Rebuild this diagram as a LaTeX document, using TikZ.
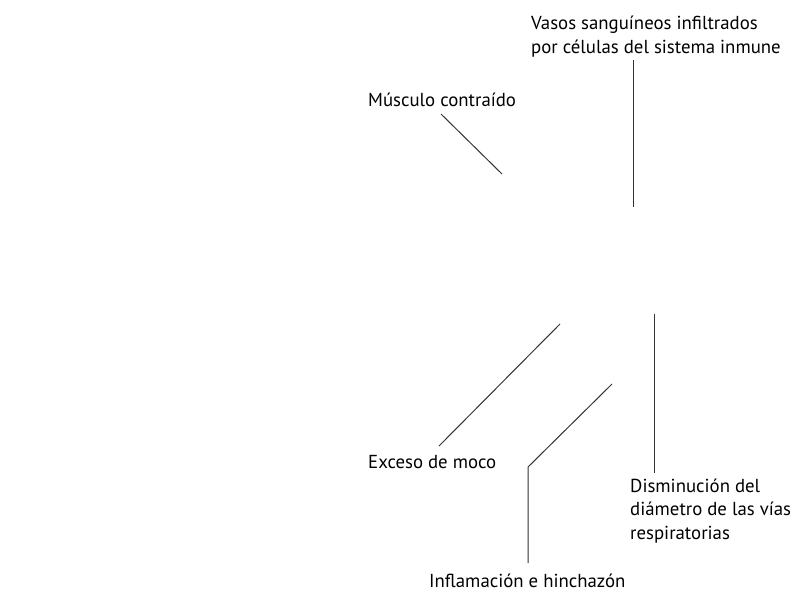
\documentclass[tikz,border=0pt]{standalone}
\usepackage{fontspec}
\setmainfont{PT Sans}
\usepackage{tikz}
\usetikzlibrary{positioning}
\tikzset{
  lbl/.style={anchor=base west, align=left, inner sep=0pt,
    font=\fontsize{18.8}{23.5}\selectfont},
  leader/.style={draw=black!80, line width=1pt}
}

\begin{document}
\begin{tikzpicture}[x=1pt, y=-1pt]
  \useasboundingbox (0,0) rectangle (800,600);

  % Labels (base of the last line)
  \node[lbl] (vasos) at (531,53)
    {Vasos sanguíneos infiltrados\\por células del sistema inmune};
  \node[lbl] (musculo) at (368,106) {Músculo contraído};
  \node[lbl] (moco) at (368,468) {Exceso de moco};
  \node[lbl] (inflam) at (429,587) {Inflamación e hinchazón};
  \node[lbl] (dismin) at (630,539)
    {Disminución del\\diámetro de las vías\\respiratorias};

  % Leader end points
  \coordinate (vasos-a) at (633,60);
  \coordinate (vasos-b) at (633,207);
  \coordinate (musculo-a) at (441,114);
  \coordinate (musculo-b) at (502,174);
  \coordinate (moco-a) at (439,446);
  \coordinate (moco-b) at (560,324);
  \coordinate (inflam-a) at (528,563);
  \coordinate (inflam-k) at (528,467);
  \coordinate (inflam-b) at (612,384);
  \coordinate (dismin-a) at (654,473);
  \coordinate (dismin-b) at (654,314);

  % Leaders
  \draw[leader] (vasos-a) -- (vasos-b);
  \draw[leader] (musculo-a) -- (musculo-b);
  \draw[leader] (moco-a) -- (moco-b);
  \draw[leader] (inflam-a) -- (inflam-k) -- (inflam-b);
  \draw[leader] (dismin-a) -- (dismin-b);
\end{tikzpicture}
\end{document}
